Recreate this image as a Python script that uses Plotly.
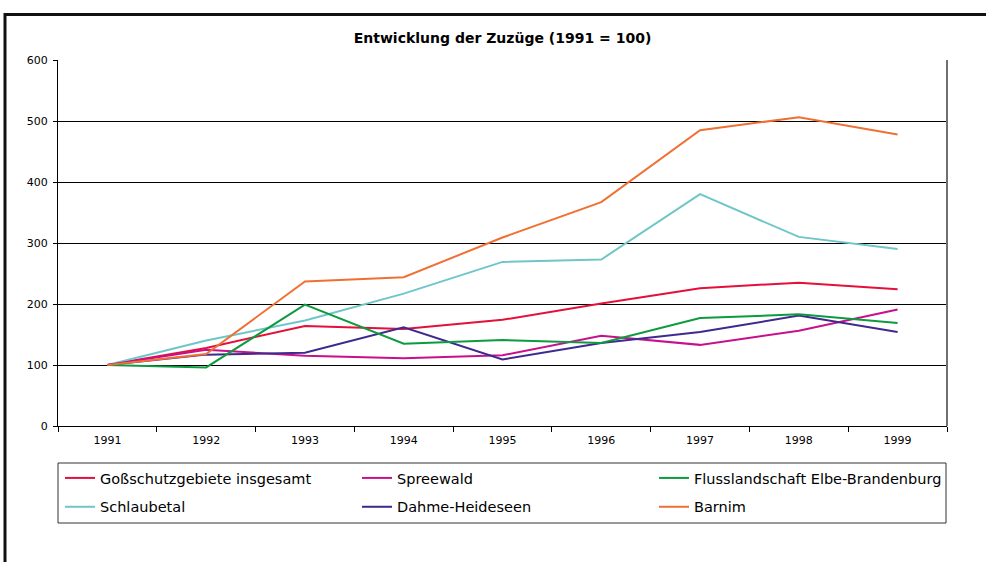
import plotly.graph_objects as go

years = ["1991", "1992", "1993", "1994", "1995", "1996", "1997", "1998", "1999"]

gross = [100, 128, 164, 159, 174, 201, 226, 235, 224]
spreewald = [100, 125, 115, 111, 116, 148, 133, 156, 191]
elbe = [100, 96, 199, 135, 141, 136, 177, 183, 169]
schlaubetal = [100, 140, 173, 217, 269, 273, 380, 310, 290]
dahme = [100, 117, 120, 162, 109, 136, 154, 181, 154]
barnim = [100, 118, 237, 244, 309, 367, 485, 506, 478]

series = [
    ("Goßschutzgebiete insgesamt", gross, "#E3103A", "legend"),
    ("Schlaubetal", schlaubetal, "#6EC6C8", "legend"),
    ("Spreewald", spreewald, "#C8108C", "legend2"),
    ("Dahme-Heideseen", dahme, "#3E2A8E", "legend2"),
    ("Flusslandschaft Elbe-Brandenburg", elbe, "#0E9A3E", "legend3"),
    ("Barnim", barnim, "#F07034", "legend3"),
]

W, H = 986, 562
L, R, T, B = 58, 947, 60, 426
pw, ph = R - L, B - T

def px(x):
    return (x - L) / pw

def py(y):
    return (B - y) / ph

fig = go.Figure()
for name, vals, col, lg in series:
    fig.add_trace(go.Scatter(
        x=years, y=vals, name=name, mode="lines",
        line=dict(color=col, width=2),
        legend=lg, legendgroup=name,
    ))

font_family = "DejaVu Sans"
leg_common = dict(
    orientation="v", xanchor="left", yanchor="top", y=py(462),
    bgcolor="rgba(0,0,0,0)", borderwidth=0, tracegroupgap=7,
    font=dict(family=font_family, size=14.5, color="black"),
)

fig.update_layout(
    width=W, height=H,
    margin=dict(l=L, r=W - R, t=T, b=H - B),
    paper_bgcolor="white", plot_bgcolor="white",
    title=dict(text="<b>Entwicklung der Zuzüge (1991 = 100)</b>",
               x=0.5, xref="paper", xanchor="center",
               y=1 - 38 / H, yref="container", yanchor="middle",
               font=dict(family=font_family, size=14, color="black")),
    legend=dict(x=px(60), **leg_common),
    legend2=dict(x=px(357), **leg_common),
    legend3=dict(x=px(654), **leg_common),
    xaxis=dict(type="category", range=[-0.5, 8.5], showgrid=False,
               showline=True, linecolor="black", linewidth=1,
               ticks="outside", ticklen=5, tickcolor="black", tickson="boundaries",
               ticklabelstandoff=4,
               tickfont=dict(family=font_family, size=11, color="black"),
               zeroline=False),
    yaxis=dict(range=[0, 600], dtick=100, showgrid=True, gridcolor="black", gridwidth=1,
               showline=True, linecolor="black", linewidth=1,
               ticks="outside", ticklen=4, tickcolor="black",
               ticklabelstandoff=3,
               tickfont=dict(family=font_family, size=11, color="black"),
               zeroline=False),
    showlegend=True,
)

shapes = [
    # right border of plot area
    dict(type="line", xref="paper", yref="paper", x0=1, x1=1, y0=0, y1=1,
         line=dict(color="#707070", width=2)),
    # legend box
    dict(type="rect", xref="paper", yref="paper", x0=px(58), x1=px(946), y0=py(523), y1=py(463),
         line=dict(color="#333333", width=1)),
    # outer frame
    dict(type="rect", xref="paper", yref="paper", x0=px(5), x1=px(1010), y0=py(600), y1=py(14.5),
         line=dict(color="#111111", width=3)),
]
fig.update_layout(shapes=shapes)

fig.write_html("out.html", config={"displayModeBar": False},
               post_script="document.body.style.margin='0';")
